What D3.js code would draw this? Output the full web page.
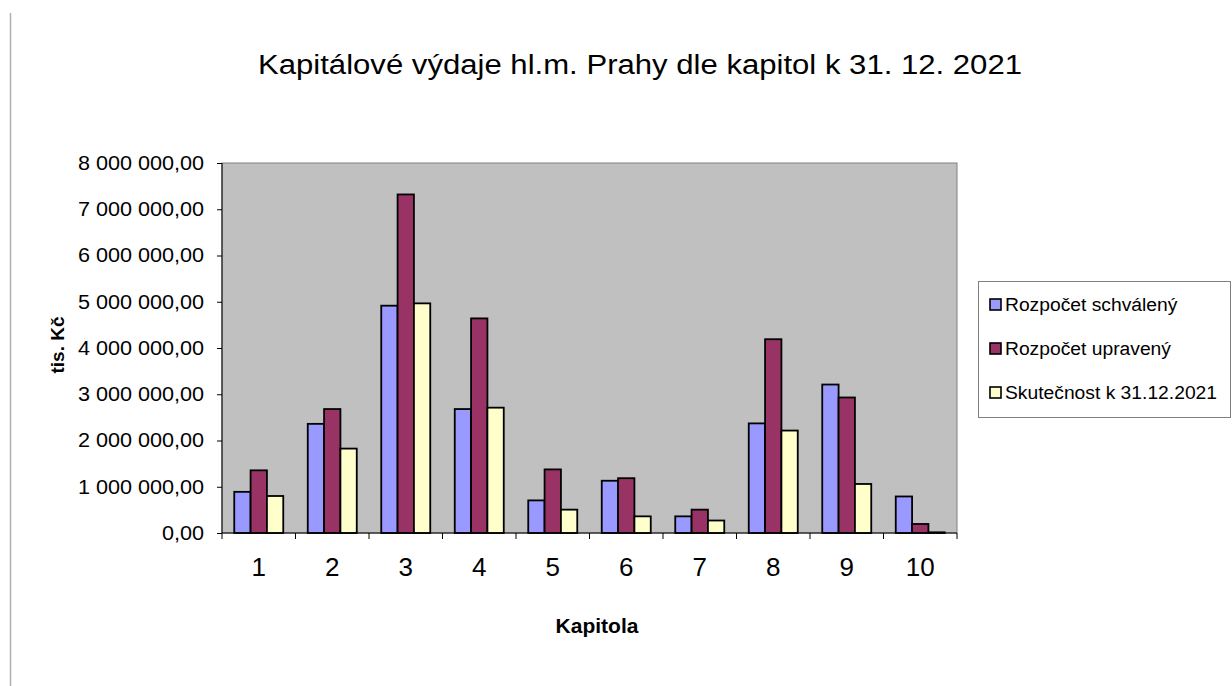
<!DOCTYPE html>
<meta charset="utf-8">
<style>
  body { margin: 0; background: #fff; }
  svg text { font-family: "Liberation Sans", Arial, sans-serif; fill: #000; }
  .axis path, .axis line { stroke: #000; }
</style>
<body>
<svg id="chart"></svg>
<script src="https://cdn.jsdelivr.net/npm/d3@7"></script>
<script>
  // data (tis. Kč)
  var kapitoly = ["1", "2", "3", "4", "5", "6", "7", "8", "9", "10"];
  var serie = ["Rozpočet schválený", "Rozpočet upravený", "Skutečnost k 31.12.2021"];
  var schvaleny = [890000, 2360000, 4915000, 2680000, 705000, 1130000, 360000, 2370000, 3210000, 790000];
  var upraveny = [1355000, 2680000, 7320000, 4640000, 1375000, 1185000, 505000, 4190000, 2930000, 195000];
  var skutecnost = [800000, 1825000, 4965000, 2710000, 505000, 360000, 270000, 2215000, 1060000, 15000];
  var yTicks = [0, 1000000, 2000000, 3000000, 4000000, 5000000, 6000000, 7000000, 8000000];
  var barvy = ["#9999ff", "#993366", "#ffffcc"];

  var W = 1232, H = 686;
  var plot = { left: 222, top: 163, right: 957, bottom: 533 };

  var svg = d3.select("#chart").attr("width", W).attr("height", H);

  // the picture is a little wider than the fonts, so widen text a bit
  var stretch = function (sel, k) {
    sel.each(function () {
      var l = this.getComputedTextLength();
      d3.select(this).attr("textLength", l * k).attr("lengthAdjust", "spacingAndGlyphs");
    });
  };

  // left border line of the sheet
  svg.append("line")
      .attr("x1", 10.5).attr("x2", 10.5).attr("y1", 13).attr("y2", H)
      .attr("stroke", "#b0b0b0").attr("stroke-width", 1.5);

  var x = d3.scaleBand().domain(kapitoly).range([plot.left, plot.right]);
  var xi = d3.scaleBand().domain(d3.range(3)).range([0, x.bandwidth()]).paddingInner(0).paddingOuter(0.75);
  var y = d3.scaleLinear().domain([0, 8000000]).range([plot.bottom, plot.top]);

  // plot area
  svg.append("rect")
      .attr("x", plot.left).attr("y", plot.top)
      .attr("width", plot.right - plot.left).attr("height", plot.bottom - plot.top)
      .attr("fill", "#c0c0c0").attr("stroke", "#808080").attr("stroke-width", 1);

  // bars
  var data = [schvaleny, upraveny, skutecnost];
  var groups = svg.append("g").selectAll("g")
      .data(kapitoly)
      .enter().append("g")
      .attr("transform", function (d) { return "translate(" + x(d) + ",0)"; });

  groups.selectAll("rect")
      .data(function (d, i) { return data.map(function (s, j) { return { s: j, v: s[i] }; }); })
      .enter().append("rect")
      .attr("x", function (d) { return xi(d.s); })
      .attr("width", xi.bandwidth())
      .attr("y", function (d) { return y(d.v); })
      .attr("height", function (d) { return y(0) - y(d.v); })
      .attr("fill", function (d) { return barvy[d.s]; })
      .attr("stroke", "#000").attr("stroke-width", 1.8);

  // y axis
  var fmt = function (v) {
    return d3.format(",.2f")(v).replace(/,/g, " ").replace(".", ",");
  };
  var yAxis = svg.append("g").attr("class", "axis")
      .attr("transform", "translate(" + plot.left + ",0)")
      .call(d3.axisLeft(y).tickValues(yTicks).tickSize(5).tickPadding(13).tickFormat(fmt));
  yAxis.select(".domain").remove();
  yAxis.append("line").attr("x1", 0).attr("x2", 0).attr("y1", plot.top).attr("y2", plot.bottom).attr("stroke", "#000");
  yAxis.selectAll("text").style("font-size", "20px").call(stretch, 1.08);

  // x axis with ticks between categories
  var xAxis = svg.append("g").attr("class", "axis")
      .attr("transform", "translate(0," + plot.bottom + ")");
  xAxis.append("line")
      .attr("x1", plot.left).attr("x2", plot.right).attr("y1", 0).attr("y2", 0)
      .attr("stroke", "#000");
  xAxis.selectAll(".sep")
      .data(d3.range(kapitoly.length + 1))
      .enter().append("line")
      .attr("x1", function (i) { return plot.left + i * x.step(); })
      .attr("x2", function (i) { return plot.left + i * x.step(); })
      .attr("y1", 0).attr("y2", 6)
      .attr("stroke", "#000");
  xAxis.selectAll(".lab")
      .data(kapitoly)
      .enter().append("text")
      .attr("x", function (d) { return x(d) + x.bandwidth() / 2; })
      .attr("y", 43)
      .attr("text-anchor", "middle")
      .style("font-size", "26px")
      .text(function (d) { return d; });

  // titles
  svg.append("text")
      .attr("x", 640).attr("y", 74)
      .attr("text-anchor", "middle")
      .attr("textLength", 764).attr("lengthAdjust", "spacingAndGlyphs")
      .style("font-size", "27px")
      .text("Kapitálové výdaje hl.m. Prahy dle kapitol k 31. 12. 2021");

  svg.append("text")
      .attr("x", 597).attr("y", 633)
      .attr("text-anchor", "middle")
      .style("font-size", "21px").style("font-weight", "bold")
      .text("Kapitola");

  svg.append("text")
      .attr("transform", "translate(64,345) rotate(-90)")
      .attr("text-anchor", "middle")
      .style("font-size", "19px").style("font-weight", "bold")
      .text("tis. Kč");

  // legend
  var legend = svg.append("g");
  legend.append("rect")
      .attr("x", 978.5).attr("y", 281.5).attr("width", 252).attr("height", 136)
      .attr("fill", "#fff").attr("stroke", "#808080");
  var li = legend.selectAll(".item")
      .data(serie)
      .enter().append("g")
      .attr("transform", function (d, i) { return "translate(990," + (311 + i * 44) + ")"; });
  li.append("rect")
      .attr("x", 0).attr("y", -12).attr("width", 11).attr("height", 11)
      .attr("fill", function (d, i) { return barvy[i]; })
      .attr("stroke", "#000").attr("stroke-width", 1.6);
  li.append("text")
      .attr("x", 15).attr("y", 0)
      .style("font-size", "18px")
      .text(function (d) { return d; })
      .call(stretch, 1.07);
</script>
</body>
